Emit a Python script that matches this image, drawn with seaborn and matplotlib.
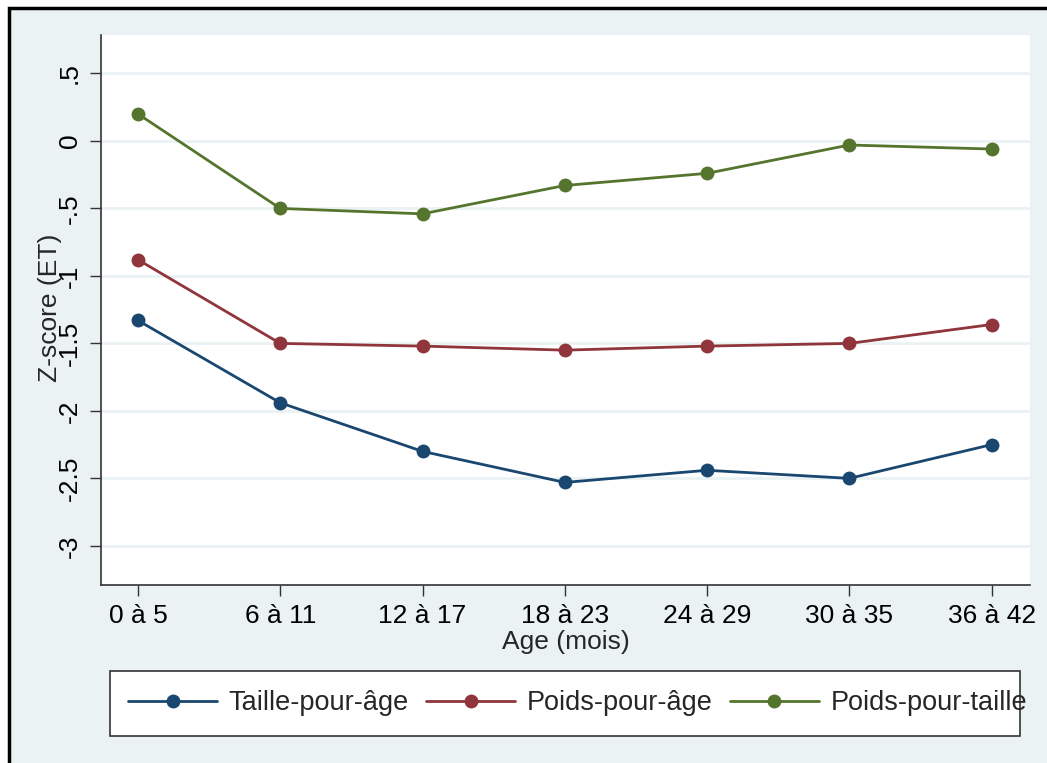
import matplotlib
matplotlib.use("Agg")
import matplotlib.pyplot as plt
import seaborn as sns
import pandas as pd
from matplotlib.patches import Rectangle

categories = ["0 à 5", "6 à 11", "12 à 17", "18 à 23", "24 à 29", "30 à 35", "36 à 42"]
taille_pour_age = [-1.33, -1.94, -2.30, -2.53, -2.44, -2.50, -2.25]
poids_pour_age = [-0.88, -1.50, -1.52, -1.55, -1.52, -1.50, -1.36]
poids_pour_taille = [0.20, -0.50, -0.54, -0.33, -0.24, -0.03, -0.06]
series_names = ["Taille-pour-âge", "Poids-pour-âge", "Poids-pour-taille"]
yticks = [0.5, 0, -0.5, -1, -1.5, -2, -2.5, -3]
ytick_labels = [".5", "0", "-.5", "-1", "-1.5", "-2", "-2.5", "-3"]

rows = []
for name, vals in zip(series_names, [taille_pour_age, poids_pour_age, poids_pour_taille]):
    for c, v in zip(categories, vals):
        rows.append({"Age": c, "Z": v, "Série": name})
df = pd.DataFrame(rows)

sns.set_theme(style="white")
plt.rcParams["font.family"] = ["Liberation Sans", "DejaVu Sans"]

W, H = 1047, 763
fig = plt.figure(figsize=(W / 100, H / 100), dpi=100, facecolor="white")
bg = "#eaf2f3"
fig.patches.append(Rectangle((9 / W, -0.1), 1.2, 1 - 8 / H + 0.1, transform=fig.transFigure,
                             facecolor=bg, edgecolor="black", linewidth=2.5, zorder=-10))
# legend box
fig.patches.append(Rectangle((110 / W, 1 - 736 / H), (1020 - 110) / W, (736 - 671) / H,
                             transform=fig.transFigure, facecolor="white", edgecolor="#333333",
                             linewidth=1.2, zorder=-5))

ax = fig.add_axes([101 / W, 1 - 585 / H, (1030 - 101) / W, (585 - 35) / H])
ax.set_facecolor("white")
palette = {"Taille-pour-âge": "#1a476f", "Poids-pour-âge": "#90353b", "Poids-pour-taille": "#55752f"}
sns.lineplot(data=df, x="Age", y="Z", hue="Série", hue_order=series_names, palette=palette,
             marker="o", markersize=10, markeredgewidth=0, linewidth=2, sort=False, ax=ax, legend=True)

ax.set_xlim(-0.26, 6.27)
ax.set_ylim(-3.29, 0.785)
ax.set_yticks(yticks)
ax.set_yticklabels(ytick_labels, rotation=90, va="center")
ax.grid(axis="y", color=bg, linewidth=2)
ax.grid(axis="x", visible=False)
for s in ["top", "right"]:
    ax.spines[s].set_visible(False)
for s in ["left", "bottom"]:
    ax.spines[s].set_color("#333333")
    ax.spines[s].set_linewidth(1.2)
ax.tick_params(axis="both", which="major", length=8, width=1, color="#333333",
               labelsize=19, labelcolor="black", direction="out", pad=6, left=True, bottom=True)
ax.set_xlabel("Age (mois)", fontsize=19, labelpad=1)
ax.set_ylabel("Z-score (ET)", fontsize=19)
ax.yaxis.set_label_coords((62 - 101) / 929, (585 - 308) / 550)

handles, labels = ax.get_legend_handles_labels()
ax.get_legend().remove()
leg = fig.legend(handles, labels, loc="center left", ncol=3,
                 bbox_to_anchor=(128 / W, 1 - 703.5 / H),
                 fontsize=19.5, frameon=False, handlelength=3.3,
                 handletextpad=0.42, columnspacing=0.63, borderaxespad=0, borderpad=0)

fig.savefig("out.png", dpi=100, facecolor=fig.get_facecolor())
